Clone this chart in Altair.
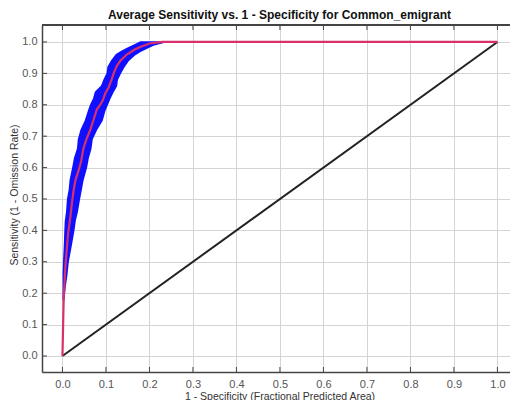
import altair as alt
import pandas as pd

# Mean curve (red)
mean_x = [0, 0.001, 0.002, 0.003, 0.005, 0.007, 0.010, 0.013, 0.018, 0.022, 0.026, 0.030,
          0.037, 0.043, 0.048, 0.055, 0.064, 0.071, 0.079, 0.087, 0.093, 0.098, 0.106,
          0.113, 0.119, 0.125, 0.133, 0.148, 0.165, 0.18, 0.2, 0.215, 0.23, 1.0]
mean_y = [0, 0.06, 0.13, 0.19, 0.24, 0.29, 0.34, 0.39, 0.44, 0.49, 0.53, 0.56,
          0.59, 0.62, 0.66, 0.69, 0.72, 0.75, 0.785, 0.80, 0.815, 0.835, 0.855,
          0.88, 0.905, 0.923, 0.94, 0.96, 0.975, 0.985, 0.995, 0.998, 1.0, 1.0]

# +/- one std band (blue), as x-range at each sensitivity level
band_y = [0.18, 0.22, 0.26, 0.30, 0.33, 0.36, 0.40, 0.43, 0.46, 0.50, 0.53, 0.56, 0.60,
          0.63, 0.66, 0.69, 0.72, 0.75, 0.78, 0.80, 0.82, 0.84, 0.86, 0.88, 0.90, 0.92,
          0.94, 0.96, 0.97, 0.98, 0.99, 1.0]
band_lo = [0.002, 0.002, 0.002, 0.003, 0.004, 0.005, 0.006, 0.007, 0.010, 0.012, 0.016,
           0.018, 0.024, 0.028, 0.035, 0.037, 0.043, 0.053, 0.060, 0.065, 0.072, 0.076,
           0.090, 0.096, 0.103, 0.105, 0.113, 0.124, 0.136, 0.150, 0.165, 0.18]
band_hi = [0.003, 0.006, 0.010, 0.013, 0.017, 0.021, 0.026, 0.029, 0.034, 0.039, 0.043,
           0.047, 0.055, 0.059, 0.065, 0.068, 0.078, 0.091, 0.097, 0.103, 0.109, 0.116,
           0.124, 0.126, 0.133, 0.141, 0.151, 0.167, 0.179, 0.193, 0.209, 0.235]

# Random prediction line (black)
diag_x = [0.0, 1.0]
diag_y = [0.0, 1.0]

ticks = [round(i * 0.1, 1) for i in range(11)]

W, H = 475, 347
xscale = alt.Scale(domain=[-0.047, 1.045], nice=False, zero=False)
yscale = alt.Scale(domain=[-0.051, 1.054], nice=False, zero=False)

mean_df = pd.DataFrame({"x": mean_x, "y": mean_y, "i": range(len(mean_x))})
band_df = pd.DataFrame({"y": band_y, "lo": band_lo, "hi": band_hi})
diag_df = pd.DataFrame({"x": diag_x, "y": diag_y})
tick_df = pd.DataFrame({"t": ticks})

xaxis = alt.Axis(values=ticks, format=".1f", ticks=False, grid=True, gridColor="#d4d4d4",
                 domainColor="#444", domainWidth=1.5, labelFont="Liberation Sans",
                 labelFontSize=11, labelColor="#555", labelPadding=6, labelOverlap=False,
                 title="1 - Specificity (Fractional Predicted Area)", titleFont="Liberation Sans",
                 titleFontSize=10.5, titleFontWeight="normal", titleColor="#333",
                 titleBaseline="middle", titleY=24)
yaxis = alt.Axis(values=ticks, format=".1f", ticks=False, grid=True, gridColor="#d4d4d4",
                 domainColor="#444", domainWidth=1.5, labelFont="Liberation Sans",
                 labelFontSize=11, labelColor="#555", labelPadding=5, labelOverlap=False,
                 title="Sensitivity (1 - Omission Rate)", titleFont="Liberation Sans",
                 titleFontSize=10.5, titleFontWeight="normal", titleColor="#333",
                 titleBaseline="middle", titleX=-28, titleY=H / 2 - 4)


def X(f):
    return alt.X(f, scale=xscale, axis=xaxis)


def Y(f):
    return alt.Y(f, scale=yscale, axis=yaxis)


base_grid = alt.Chart(tick_df).mark_rule(opacity=0).encode(x=X("t:Q"), y=Y("t:Q"))

top_frame = alt.Chart(tick_df).mark_rule(color="#444", strokeWidth=1.5).encode(
    x=alt.value(0), x2=alt.value(W), y=alt.value(0))

bt = alt.Chart(tick_df).mark_rule(color="#444").encode(
    x=X("t:Q"), y=alt.value(H), y2=alt.value(H - 5))
tt = alt.Chart(tick_df).mark_rule(color="#444").encode(
    x=X("t:Q"), y=alt.value(0), y2=alt.value(5))
lt = alt.Chart(tick_df).mark_rule(color="#444").encode(
    y=Y("t:Q"), x=alt.value(0), x2=alt.value(5))

band = alt.Chart(band_df).mark_area(orient="horizontal", color="#1010ff", stroke="#1010ff",
                                    strokeWidth=1.5, opacity=1).encode(
    y=Y("y:Q"), x=X("lo:Q"), x2="hi:Q")

mean = alt.Chart(mean_df).mark_line(color="#d8306a", strokeWidth=2.2).encode(
    x=X("x:Q"), y=Y("y:Q"), order="i:Q")

diag = alt.Chart(diag_df).mark_line(color="#222", strokeWidth=2).encode(
    x=X("x:Q"), y=Y("y:Q"))

chart = alt.layer(base_grid, top_frame, bt, tt, lt, diag, band, mean).properties(
    width=W, height=H,
    title=alt.TitleParams("Average Sensitivity vs. 1 - Specificity for Common_emigrant",
                          font="Liberation Sans", fontSize=12, fontWeight="bold",
                          color="#111", anchor="middle", offset=2),
    autosize=alt.AutoSizeParams(type="none"),
    padding={"left": 34, "top": 17, "right": -7, "bottom": 28},
).configure_view(stroke=None).configure(background="white")

chart.save("out.html", embed_options={"renderer": "svg", "actions": False})
